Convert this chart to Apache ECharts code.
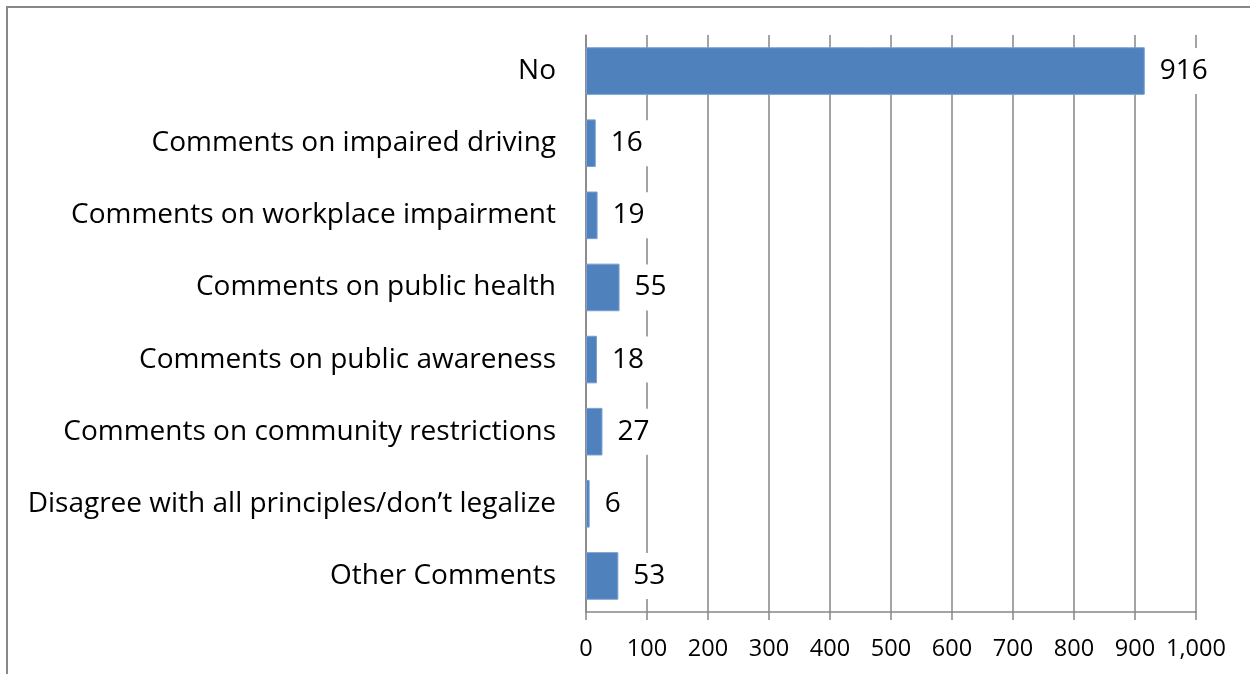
<!DOCTYPE html>
<html><head><meta charset="utf-8">
<script src="https://cdn.jsdelivr.net/npm/echarts@6/dist/echarts.min.js"></script>
<style>html,body{margin:0;padding:0;background:#fff}#c{width:1250px;height:674px}</style>
</head><body><div id="c"></div>
<script>
const categories = ["No","Comments on impaired driving","Comments on workplace impairment","Comments on public health","Comments on public awareness","Comments on community restrictions","Disagree with all principles/don\u2019t legalize","Other Comments"];
const values = [916,16,19,55,18,27,6,53];
const tickValues = [0,100,200,300,400,500,600,700,800,900,1000];
const FONT = "Open Sans";
const chart = echarts.init(document.getElementById('c'));
chart.setOption({
  animation:false,
  backgroundColor:'#fff',
  graphic:[
    {type:'line',shape:{x1:6,y1:7,x2:1250,y2:7},style:{stroke:'#888',lineWidth:2}},
    {type:'line',shape:{x1:7,y1:6,x2:7,y2:674},style:{stroke:'#888',lineWidth:2}}
  ],
  grid:{left:586,top:35,right:54,bottom:62},
  xAxis:{type:'value',min:tickValues[0],max:tickValues[tickValues.length-1],interval:tickValues[1]-tickValues[0],
    axisLine:{show:true,lineStyle:{color:'#868686',width:1.5}},
    axisTick:{show:true,length:8,lineStyle:{color:'#868686',width:1.5}},
    splitLine:{show:true,lineStyle:{color:'#868686',width:1.5}},
    axisLabel:{margin:25,color:'#000',fontFamily:FONT,fontSize:23.5,
      formatter:v=>v.toLocaleString('en-US')}},
  yAxis:{type:'category',data:categories,inverse:true,
    axisLine:{show:true,lineStyle:{color:'#868686',width:1.5}},
    axisTick:{show:false},
    axisLabel:{margin:30,color:'#000',fontFamily:FONT,fontSize:28}},
  series:[{type:'bar',data:values,barCategoryGap:'34%',
    itemStyle:{color:'#4F81BD',borderColor:'#7A9FD0',borderWidth:1},
    label:{show:true,position:'right',distance:7,color:'#000',fontFamily:FONT,fontSize:28,
      backgroundColor:'#fff',padding:[9,8,9,8]}}]
});
</script></body></html>
